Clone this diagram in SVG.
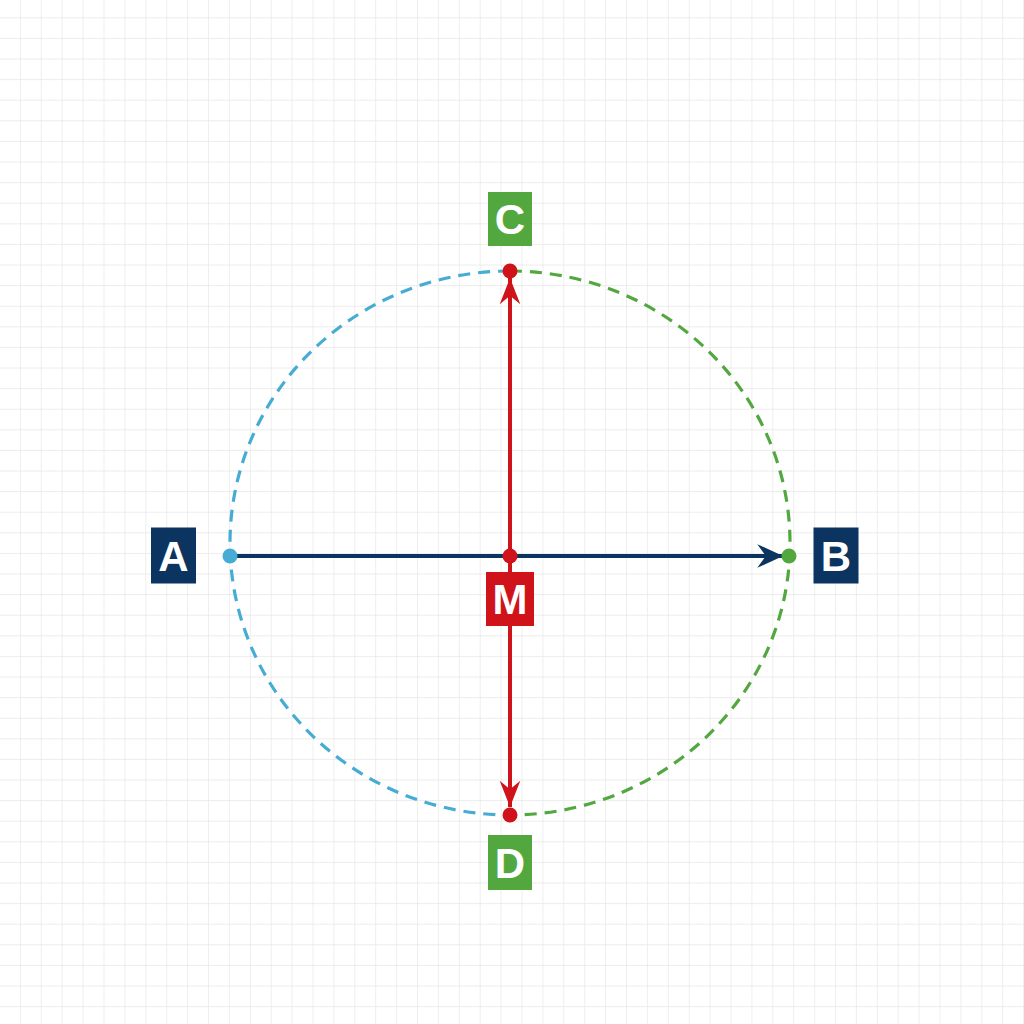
<svg xmlns="http://www.w3.org/2000/svg" width="1024" height="1024" viewBox="0 0 1024 1024">
  <style>
    .lbl { font-family: "Liberation Sans", Arial, sans-serif; font-weight: bold; font-size: 42px; fill: #ffffff; text-anchor: middle; }
    .navy { fill: #0b3560; }
    .green { fill: #52a83f; }
    .red { fill: #d0121b; }
    .blue { fill: #46acd3; }
    .arc { fill: none; stroke-width: 3.2; stroke-dasharray: 12 8; }
  </style>
  <defs>
    <pattern id="grid" patternUnits="userSpaceOnUse" x="0" y="-2.3" width="20.9" height="20.6">
      <path d="M20.9,0 V20.6 M0,20.6 H20.9" fill="none" stroke="#e6e6e6" stroke-width="1.3"/>
    </pattern>
    <marker id="arrNavy" markerUnits="userSpaceOnUse" markerWidth="30" markerHeight="30" viewBox="-26 -13 28 26" refX="0" refY="0" orient="auto">
      <path d="M0,0 L-24,-11 L-16,0 L-24,11 Z" fill="#0b3560"/>
    </marker>
    <marker id="arrRed" markerUnits="userSpaceOnUse" markerWidth="30" markerHeight="30" viewBox="-30 -13 32 26" refX="0" refY="0" orient="auto">
      <path d="M0,0 L-28,-11 L-19,0 L-28,11 Z" fill="#d0121b"/>
    </marker>
  </defs>
  <rect x="0" y="0" width="1024" height="1024" fill="#ffffff"/>
  <rect x="0" y="0" width="1024" height="1024" fill="url(#grid)"/>

  <g id="circle">
    <path class="arc" stroke="#46acd3" d="M510,271 A280,272 0 0,0 510,815"/>
    <path class="arc" stroke="#52a83f" d="M510,271 A280,272 0 0,1 510,815"/>
  </g>

  <g id="connectors">
    <line x1="230" y1="556" x2="783" y2="556" stroke="#0b3560" stroke-width="4" marker-end="url(#arrNavy)"/>
    <line x1="510" y1="556" x2="510" y2="278" stroke="#d0121b" stroke-width="4" marker-end="url(#arrRed)"/>
    <line x1="510" y1="556" x2="510" y2="807" stroke="#d0121b" stroke-width="4" marker-end="url(#arrRed)"/>
  </g>

  <g id="node-A">
    <circle class="blue" cx="230" cy="556" r="7.5"/>
    <rect class="navy" x="151" y="527.5" width="45" height="56"/>
    <text class="lbl" x="173.5" y="570.5">A</text>
  </g>
  <g id="node-B">
    <circle class="green" cx="789" cy="556" r="7.5"/>
    <rect class="navy" x="813.5" y="527.5" width="45" height="56"/>
    <text class="lbl" x="836" y="570.5">B</text>
  </g>
  <g id="node-C">
    <circle class="red" cx="510" cy="271" r="7.5"/>
    <rect class="green" x="488" y="192" width="44" height="54"/>
    <text class="lbl" x="510" y="234">C</text>
  </g>
  <g id="node-D">
    <circle class="red" cx="510" cy="815" r="7.5"/>
    <rect class="green" x="488" y="835" width="44" height="55"/>
    <text class="lbl" x="510" y="877.5">D</text>
  </g>
  <g id="node-M">
    <circle class="red" cx="510" cy="556" r="7.5"/>
    <rect class="red" x="486" y="572" width="48" height="54"/>
    <text class="lbl" x="510" y="614">M</text>
  </g>
</svg>
